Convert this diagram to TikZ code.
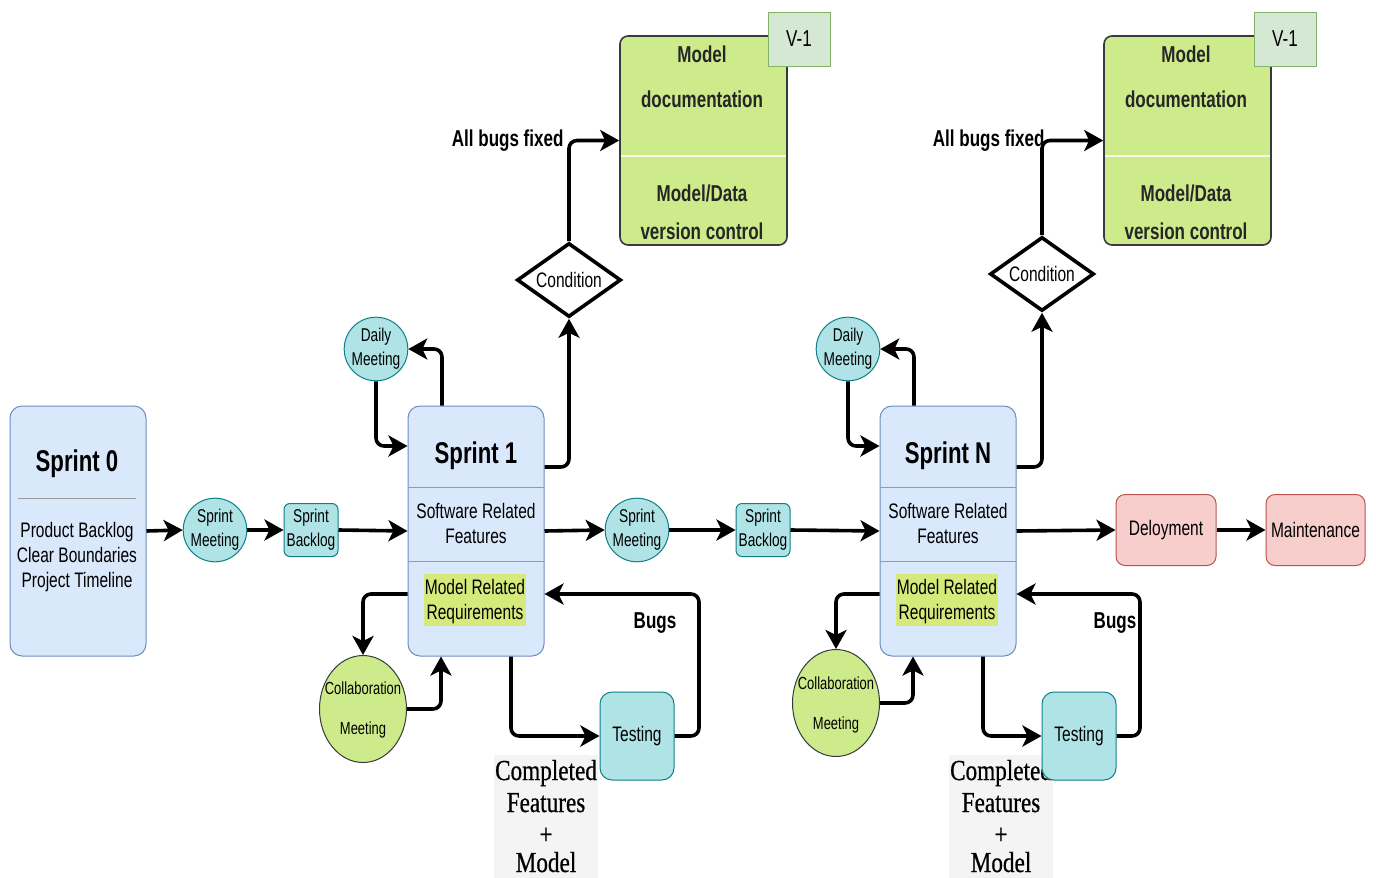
\documentclass[tikz,border=0pt]{standalone}
\usepackage{fontspec}
\usetikzlibrary{arrows.meta,shapes.geometric}
\newfontfamily\nar[FakeStretch=0.74]{Liberation Sans}
\newfontfamily\narser[FakeStretch=0.8,FakeBold=0.6]{Liberation Serif}

\definecolor{blueFill}{HTML}{DAE8FC}
\definecolor{blueLine}{HTML}{6C8EBF}
\definecolor{tealFill}{HTML}{B0E3E6}
\definecolor{tealLine}{HTML}{0E8088}
\definecolor{greenFill}{HTML}{CDEB8B}
\definecolor{greenLine}{HTML}{36393D}
\definecolor{vFill}{HTML}{D5E8D4}
\definecolor{vLine}{HTML}{82B366}
\definecolor{redFill}{HTML}{F8CECC}
\definecolor{redLine}{HTML}{B85450}
\definecolor{hiFill}{HTML}{D6EA7C}
\definecolor{divLine}{HTML}{9A9A9A}
\definecolor{noteFill}{HTML}{F4F4F4}

\tikzset{
  conn/.style={line width=3.6pt, rounded corners=8pt,
    -{Stealth[length=19pt,width=21pt,inset=5pt]}},
  sprintbox/.style={draw=blueLine, fill=blueFill, line width=1pt,
    rounded corners=12pt, minimum width=136pt, minimum height=250pt, inner sep=0pt},
  tealcirc/.style={circle, draw=tealLine, fill=tealFill, line width=1pt,
    minimum size=62pt, inner sep=0pt, align=center,
    font=\nar\fontsize{18.5}{24}\selectfont},
  tealbox/.style={draw=tealLine, fill=tealFill, line width=1pt, rounded corners=6pt,
    inner sep=0pt, align=center, font=\nar\fontsize{18.5}{24}\selectfont},
  collab/.style={ellipse, draw=greenLine, fill=greenFill, line width=1pt,
    minimum width=87pt, minimum height=107pt, inner sep=0pt},
  collabtxt/.style={font=\nar\fontsize{17.5}{17.5}\selectfont},
  cond/.style={diamond, draw=black, fill=white, line width=3.6pt, inner sep=0pt,
    minimum width=104pt, minimum height=74pt, aspect=1.4,
    font=\nar\fontsize{21}{21}\selectfont},
  modelbox/.style={draw=greenLine, fill=greenFill, line width=1.6pt, rounded corners=8pt,
    minimum width=167pt, minimum height=209pt, inner sep=0pt},
  vbox/.style={draw=vLine, fill=vFill, line width=1pt, minimum width=62pt,
    minimum height=54pt, inner sep=0pt, font=\nar\fontsize{23}{23}\selectfont},
  redbox/.style={draw=redLine, fill=redFill, line width=1pt, rounded corners=9pt,
    minimum height=71pt, inner sep=0pt, font=\nar\fontsize{21}{21}\selectfont},
  testbox/.style={draw=tealLine, fill=tealFill, line width=1pt, rounded corners=12pt,
    minimum width=74pt, minimum height=88pt, inner sep=0pt,
    font=\nar\fontsize{21}{21}\selectfont},
  ttl/.style={anchor=base, font=\nar\bfseries\fontsize{30}{30}\selectfont},
  lbl/.style={anchor=base, font=\nar\fontsize{21}{21}\selectfont},
  mlbl/.style={anchor=base, font=\nar\bfseries\fontsize{23}{23}\selectfont, text=black!85},
  boldlbl/.style={font=\nar\bfseries\fontsize{23}{23}\selectfont},
  note/.style={fill=noteFill, minimum width=104pt, minimum height=125pt, inner sep=0pt},
  notetxt/.style={anchor=base, font=\narser\fontsize{29}{29}\selectfont},
}

\begin{document}
\begin{tikzpicture}[x=1pt,y=-1pt]
\useasboundingbox[fill=white] (0,0) rectangle (1376,878);

% ---------------- Sprint 0 ----------------
\node[sprintbox] (s0) at (78,531) {};
\node[ttl] (s0t) at (77,471) {Sprint 0};
\draw[divLine, line width=1pt] (18,498) -- (136,498);
\node[lbl] (s0a) at (77,537) {Product Backlog};
\node[lbl] (s0b) at (77,562) {Clear Boundaries};
\node[lbl] (s0c) at (77,587) {Project Timeline};

\node[tealcirc] (sm1) at (215,530) {Sprint\\Meeting};
\node[tealbox, minimum width=54pt, minimum height=53pt] (sb1) at (311,530) {Sprint\\Backlog};

% ---------------- Sprint 1 ----------------
\node[sprintbox] (s1) at (476,531) {};
\node[ttl] (s1t) at (476,463) {Sprint 1};
\draw[divLine, line width=1pt] (408,487) -- (544,487);
\draw[divLine, line width=1pt] (408,561) -- (544,561);
\node[lbl] (s1a) at (476,518) {Software Related};
\node[lbl] (s1b) at (476,543) {Features};
\node[fill=hiFill, minimum width=102pt, minimum height=52pt, inner sep=0pt] (s1hl) at (475,600) {};
\node[lbl] (s1c) at (475,594) {Model Related};
\node[lbl] (s1d) at (475,619) {Requirements};

\node[tealcirc] (dm1) at (376,349) {Daily\\Meeting};
\node[collab] (cm1) at (363,709) {};
\node[collabtxt] (cm1a) at (363,688) {Collaboration};
\node[collabtxt] (cm1b) at (363,730) {Meeting};
\node[cond] (c1) at (569,280) {Condition};

% model documentation box (sprint 1)
\node[modelbox] (mb1) at (703.5,140.5) {};
\draw[white!80!greenFill, line width=2pt] (621,156) -- (786,156);
\node[mlbl] (mb1a) at (702,62) {Model};
\node[mlbl] (mb1b) at (702,107) {documentation};
\node[mlbl] (mb1c) at (702,201) {Model/Data};
\node[mlbl] (mb1d) at (702,239) {version control};
\node[vbox] (v1) at (799,39) {V-1};

\node[note] (n1) at (546,817) {};
\node[notetxt] (n1a) at (546,780) {Completed};
\node[notetxt] (n1b) at (546,812) {Features};
\node[notetxt] (n1c) at (546,844) {+};
\node[notetxt] (n1d) at (546,872) {Model};
\node[testbox] (t1) at (637,736) {Testing};
\node[boldlbl] (bug1) at (655,623) {Bugs};
\node[boldlbl, anchor=east] (abf1) at (567,141) {All bugs fixed};

\node[tealcirc] (sm2) at (637,530) {Sprint\\Meeting};
\node[tealbox, minimum width=54pt, minimum height=53pt] (sb2) at (763,530) {Sprint\\Backlog};

% ---------------- Sprint N ----------------
\node[sprintbox] (s2) at (948,531) {};
\node[ttl] (s2t) at (948,463) {Sprint N};
\draw[divLine, line width=1pt] (880,487) -- (1016,487);
\draw[divLine, line width=1pt] (880,561) -- (1016,561);
\node[lbl] (s2a) at (948,518) {Software Related};
\node[lbl] (s2b) at (948,543) {Features};
\node[fill=hiFill, minimum width=102pt, minimum height=52pt, inner sep=0pt] (s2hl) at (947,600) {};
\node[lbl] (s2c) at (947,594) {Model Related};
\node[lbl] (s2d) at (947,619) {Requirements};

\node[tealcirc] (dm2) at (848,349) {Daily\\Meeting};
\node[collab] (cm2) at (836,703) {};
\node[collabtxt] (cm2a) at (836,683) {Collaboration};
\node[collabtxt] (cm2b) at (836,725) {Meeting};
\node[cond] (c2) at (1042,274) {Condition};

% model documentation box (sprint N)
\node[modelbox] (mb2) at (1187.5,140.5) {};
\draw[white!80!greenFill, line width=2pt] (1105,156) -- (1270,156);
\node[mlbl] (mb2a) at (1186,62) {Model};
\node[mlbl] (mb2b) at (1186,107) {documentation};
\node[mlbl] (mb2c) at (1186,201) {Model/Data};
\node[mlbl] (mb2d) at (1186,239) {version control};
\node[vbox] (v2) at (1285,39) {V-1};

\node[note] (n2) at (1001,817) {};
\node[notetxt] (n2a) at (1001,780) {Completed};
\node[notetxt] (n2b) at (1001,812) {Features};
\node[notetxt] (n2c) at (1001,844) {+};
\node[notetxt] (n2d) at (1001,872) {Model};
\node[testbox] (t2) at (1079,736) {Testing};
\node[boldlbl] (bug2) at (1115,623) {Bugs};

\node[redbox, minimum width=100pt] (dep) at (1166,530) {Deloyment};
\node[redbox, minimum width=99pt] (mnt) at (1315.5,530) {Maintenance};

% ---------------- connectors ----------------
\draw[conn] (s0.east) -- (sm1.west);
\draw[conn] (sm1.east) -- (sb1.west);
\draw[conn] (sb1.east) -- (s1.west);
\draw[conn] (s1.east) -- (sm2.west);
\draw[conn] (sm2.east) -- (sb2.west);
\draw[conn] (sb2.east) -- (s2.west);
\draw[conn] (s2.east) -- (dep.west);
\draw[conn] (dep.east) -- (mnt.west);

% sprint 1 loops
\draw[conn] ([xshift=-34pt]s1.north) |- (dm1.east);
\draw[conn] (dm1.south) |- ([yshift=85pt]s1.west);
\draw[conn] ([yshift=64pt]s1.east) -| (c1.south);
\draw[conn] (c1.north) |- (mb1.west);
\draw[conn] ([yshift=-63pt]s1.west) -| (cm1.north);
\draw[conn] (cm1.east) -| ([xshift=-35pt]s1.south);
\draw[conn] ([xshift=35pt]s1.south) |- (t1.west);
\coordinate (bk1) at (699,594);
\draw[conn] (t1.east) -| (bk1) -- ([yshift=-63pt]s1.east);

% sprint N loops
\draw[conn] ([xshift=-34pt]s2.north) |- (dm2.east);
\draw[conn] (dm2.south) |- ([yshift=85pt]s2.west);
\draw[conn] ([yshift=64pt]s2.east) -| (c2.south);
\draw[conn] (c2.north) |- (mb2.west);
\node[boldlbl, anchor=east] (abf2) at (1048,141) {All bugs fixed};
\draw[conn] ([yshift=-63pt]s2.west) -| (cm2.north);
\draw[conn] (cm2.east) -| ([xshift=-35pt]s2.south);
\draw[conn] ([xshift=35pt]s2.south) |- (t2.west);
\coordinate (bk2) at (1140,594);
\draw[conn] (t2.east) -| (bk2) -- ([yshift=-63pt]s2.east);
\end{tikzpicture}
\end{document}
